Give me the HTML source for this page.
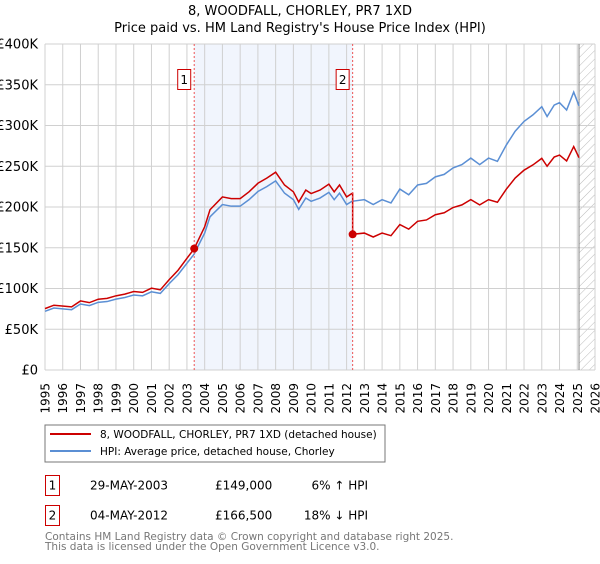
<!DOCTYPE html>
<html><head><meta charset="utf-8"><style>
body{margin:0;background:#fff;font-family:"DejaVu Sans","Liberation Sans",sans-serif;}
svg text{font-family:"DejaVu Sans","Liberation Sans",sans-serif;}
</style></head><body>
<svg id="chart" width="600" height="560" xmlns="http://www.w3.org/2000/svg">
<defs><pattern id="hatch" width="6" height="6" patternUnits="userSpaceOnUse" patternTransform="rotate(45)"><line x1="0" y1="0" x2="0" y2="6" stroke="#bbb" stroke-width="1"/></pattern></defs>
<text x="300" y="15" font-size="13" text-anchor="middle">8, WOODFALL, CHORLEY, PR7 1XD</text>
<text x="300" y="32" font-size="13" text-anchor="middle">Price paid vs. HM Land Registry's House Price Index (HPI)</text>
<g id="plot"></g>
<g>
<rect x="45" y="425" width="340" height="37" fill="#fff" stroke="#777"/>
<line x1="50" y1="434" x2="91" y2="434" stroke="#cc0000" stroke-width="2"/>
<text x="100" y="438" font-size="10.5">8, WOODFALL, CHORLEY, PR7 1XD (detached house)</text>
<line x1="50" y1="451" x2="91" y2="451" stroke="#5b8fd4" stroke-width="2"/>
<text x="100" y="455" font-size="10.5">HPI: Average price, detached house, Chorley</text>
</g>
<g>
<rect x="45.5" y="475.5" width="14" height="20" fill="none" stroke="#cc0000"/>
<text x="52.5" y="489.5" font-size="12" text-anchor="middle">1</text>
<text x="90" y="489.5" font-size="12">29-MAY-2003</text>
<text x="215" y="489.5" font-size="12">£149,000</text>
<text x="368" y="489.5" font-size="12" text-anchor="end">6% ↑ HPI</text>
</g>
<g>
<rect x="45.5" y="505.5" width="14" height="20" fill="none" stroke="#cc0000"/>
<text x="52.5" y="519.5" font-size="12" text-anchor="middle">2</text>
<text x="90" y="519.5" font-size="12">04-MAY-2012</text>
<text x="215" y="519.5" font-size="12">£166,500</text>
<text x="368" y="519.5" font-size="12" text-anchor="end">18% ↓ HPI</text>
</g>
<text x="45" y="540" font-size="10.5" fill="#777">Contains HM Land Registry data © Crown copyright and database right 2025.</text>
<text x="45" y="550" font-size="10.5" fill="#777">This data is licensed under the Open Government Licence v3.0.</text>
</svg>
<script>
const hpiYears=[1995,1995.5,1996.5,1997,1997.5,1998,1998.5,1999,1999.5,2000,2000.5,2001,2001.5,2002,2002.5,2003,2003.4,2004,2004.3,2005,2005.5,2006,2006.5,2007,2007.5,2008,2008.5,2009,2009.3,2009.7,2010,2010.5,2011,2011.3,2011.6,2012,2012.3,2013,2013.5,2014,2014.5,2015,2015.5,2016,2016.5,2017,2017.5,2018,2018.5,2019,2019.5,2020,2020.5,2021,2021.5,2022,2022.5,2023,2023.3,2023.7,2024,2024.4,2024.8,2025.1];
const hpiValues=[72,76,74,81,79,83,84,87,89,92,91,96,94,106,117,131,142,168,188,203,201,201,209,219,225,232,217,209,197,211,207,211,218,209,217,203,207,209,203,209,205,222,215,227,229,237,240,248,252,260,252,260,256,276,293,305,313,323,311,325,328,319,341,324];
const saleYears=[2003.41,2012.34];
const salePrices=[149000,166500];
const saleLabels=["1","2"];
const yTicks=[0,50000,100000,150000,200000,250000,300000,350000,400000];
const yTickLabels=["£0","£50K","£100K","£150K","£200K","£250K","£300K","£350K","£400K"];
const xTicks=[1995,1996,1997,1998,1999,2000,2001,2002,2003,2004,2005,2006,2007,2008,2009,2010,2011,2012,2013,2014,2015,2016,2017,2018,2019,2020,2021,2022,2023,2024,2025,2026];

const X0=45,X1=595,Y0=370,Y1=44;
const xs=y=>X0+(y-1995)/(2026-1995)*(X1-X0);
const ys=v=>Y0-v/400000*(Y0-Y1);
const NS="http://www.w3.org/2000/svg";
const plot=document.getElementById('plot');
function mk(tag,attrs){const e=document.createElementNS(NS,tag);for(const k in attrs)e.setAttribute(k,attrs[k]);plot.appendChild(e);return e;}

let r=mk('rect',{x:xs(saleYears[0]),y:Y1,width:xs(saleYears[1])-xs(saleYears[0]),height:Y0-Y1,fill:'#eef3fd',opacity:0.8});


let h=mk('rect',{x:xs(2025.1),y:Y1,width:X1-xs(2025.1),height:Y0-Y1,fill:'url(#hatch)'});



xTicks.forEach((t,i)=>{
  let l=mk('line',{x1:xs(t),x2:xs(t),y1:Y1,y2:Y0,stroke:'#d0d0d0','stroke-width':1});
  
  
  let tx=mk('text',{x:0,y:0,'font-size':12,'text-anchor':'end',transform:`translate(${xs(t)+4.5},${383}) rotate(-90)`});
  tx.textContent=String(t);
  
  
});
yTicks.forEach((t,i)=>{
  let l=mk('line',{x1:X0,x2:X1,y1:ys(t),y2:ys(t),stroke:'#d0d0d0','stroke-width':1});
  
  
  let tx=mk('text',{x:38,y:ys(t)+4.5,'font-size':13,'text-anchor':'end'});
  tx.textContent=yTickLabels[i];
  
  
});
let vl=mk('line',{x1:xs(2025.1),x2:xs(2025.1),y1:Y1,y2:Y0,stroke:'#888','stroke-width':1});



function hpiAt(y){for(let i=1;i<hpiYears.length;i++){if(y<=hpiYears[i]){const f=(y-hpiYears[i-1])/(hpiYears[i]-hpiYears[i-1]);return (hpiValues[i-1]+f*(hpiValues[i]-hpiValues[i-1]))*1000;}}return hpiValues[hpiValues.length-1]*1000;}

let bp=hpiYears.map((y,i)=>xs(y)+','+ys(hpiValues[i]*1000)).join(' ');
let blue=mk('polyline',{points:bp,fill:'none',stroke:'#5b8fd4','stroke-width':1.5});



const r1=salePrices[0]/hpiAt(saleYears[0]), r2=salePrices[1]/hpiAt(saleYears[1]);
let pts=[];
hpiYears.forEach((y,i)=>{
  if(y<saleYears[1]){pts.push([y,hpiValues[i]*1000*r1]);}
});
pts.push([saleYears[1],hpiAt(saleYears[1])*r1]);
pts.push([saleYears[1],salePrices[1]]);
hpiYears.forEach((y,i)=>{ if(y>saleYears[1]) pts.push([y,hpiValues[i]*1000*r2]); });
let red=mk('polyline',{points:pts.map(p=>xs(p[0])+','+ys(p[1])).join(' '),fill:'none',stroke:'#cc0000','stroke-width':1.5});



saleYears.forEach((y,i)=>{
  let d=mk('line',{x1:xs(y),x2:xs(y),y1:Y1,y2:Y0,stroke:'#ee5555','stroke-width':1,'stroke-dasharray':'2,2'});
  
  
  let c=mk('circle',{cx:xs(y),cy:ys(salePrices[i]),r:4,fill:'#cc0000'});
  
  
  let b=mk('rect',{x:xs(y)-16.5,y:69.5,width:13,height:20,fill:'#fff',stroke:'#cc0000'});
  
  
  let t=mk('text',{x:xs(y)-10,y:84,'font-size':12,'text-anchor':'middle'});
  t.textContent=saleLabels[i];
  
  
});
</script>
</body></html>
